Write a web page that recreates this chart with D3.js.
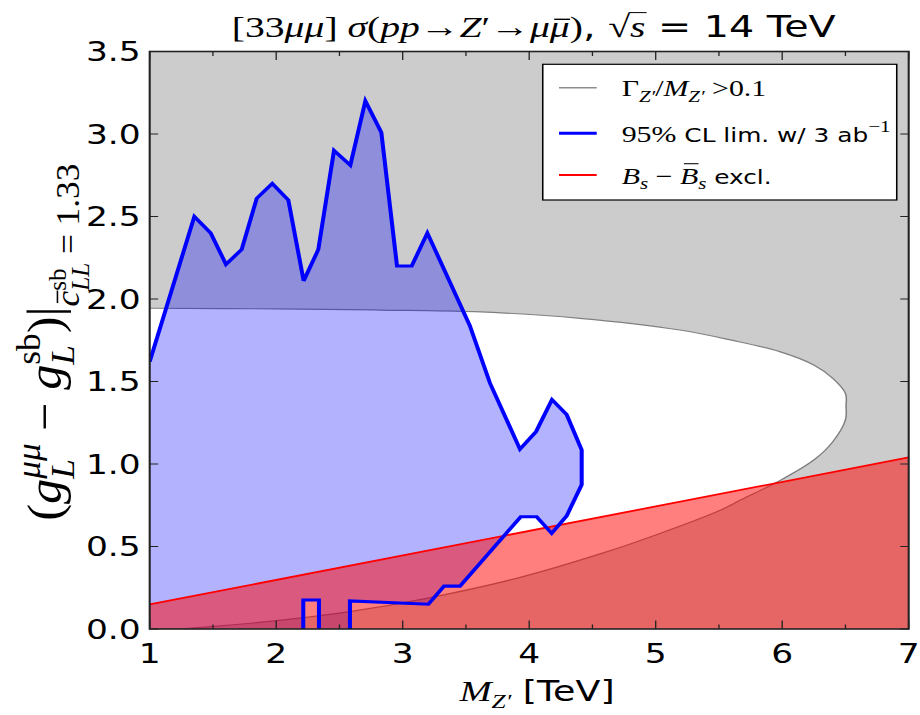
<!DOCTYPE html>
<html>
<head>
<meta charset="utf-8">
<script src="https://cdn.jsdelivr.net/npm/d3@7"></script>
<style>
  html, body { margin: 0; padding: 0; background: #fff; }
  svg { display: block; }
</style>
</head>
<body>
<svg id="chart"></svg>
<script>
// ---- axis ticks ----
const xTickValues = [1, 2, 3, 4, 5, 6, 7];
const xMinorTickValues = [1.5, 2.5, 3.5, 4.5, 5.5, 6.5];
const yTickValues = [0, 0.5, 1, 1.5, 2, 2.5, 3, 3.5];
const yTickLabels = ["0.0", "0.5", "1.0", "1.5", "2.0", "2.5", "3.0", "3.5"];

// ---- boundary of the narrow-width region (Γ/M < 0.1): upper branch, tip, lower branch ----
const widthM = [1.0, 2.0, 2.82, 3.57, 4.40, 5.19, 5.59, 5.98, 6.25, 6.40, 6.50, 6.505, 6.50, 6.40, 6.25, 5.98, 5.67, 5.51, 5.0, 4.56, 3.90, 3.19, 2.58, 2.06, 1.48, 1.2, 1.0];
const widthG = [1.944, 1.94, 1.933, 1.923, 1.883, 1.812, 1.752, 1.681, 1.600, 1.519, 1.428, 1.35, 1.267, 1.135, 1.024, 0.899, 0.782, 0.72, 0.57, 0.455, 0.307, 0.186, 0.105, 0.055, 0.014, 0.0, 0.0];

// ---- 95% CL limit contour, 3 ab^-1 ----
const limitM = [1.0, 1.353, 1.482, 1.603, 1.727, 1.846, 1.969, 2.096, 2.217, 2.333, 2.457, 2.586, 2.705, 2.831, 2.955, 3.071, 3.195, 3.53, 3.69, 3.927, 4.054, 4.18, 4.296, 4.415, 4.415, 4.296, 4.178, 4.059, 3.933, 3.453, 3.327, 3.203, 2.583, 2.583];
const limitG = [1.62, 2.50, 2.40, 2.21, 2.30, 2.61, 2.70, 2.60, 2.11, 2.30, 2.90, 2.81, 3.20, 3.01, 2.20, 2.20, 2.40, 1.84, 1.49, 1.09, 1.196, 1.39, 1.30, 1.085, 0.875, 0.685, 0.58, 0.68, 0.68, 0.26, 0.26, 0.15, 0.17, 0.0];
// small island outside the limit near 2.2-2.3 TeV
const islandM = [2.214, 2.214, 2.338, 2.338];
const islandG = [0.0, 0.176, 0.176, 0.0];

// ---- Bs - Bsbar mixing exclusion boundary ----
const mixM = [1, 7];
const mixG = [0.149, 1.04];

// ---- canvas: drawn in a narrower user space and stretched to the window width ----
const W = 920, H = 715, SX = 1.3;
const VW = W / SX;
const SANS = "'DejaVu Sans', sans-serif";
const SERIF = "'Liberation Serif', 'DejaVu Serif', serif";

const svg = d3.select("#chart")
  .attr("width", W).attr("height", H)
  .attr("viewBox", `0 0 ${VW} ${H}`)
  .attr("preserveAspectRatio", "none");

const plot = { left: 115.15, right: 699.0, top: 51.5, bottom: 629 };
const x = d3.scaleLinear().domain([1, 7]).range([plot.left, plot.right]);
const y = d3.scaleLinear().domain([0, 3.5]).range([plot.bottom, plot.top]);

svg.append("defs").append("clipPath").attr("id", "plotClip")
  .append("rect")
  .attr("x", plot.left).attr("y", plot.top)
  .attr("width", plot.right - plot.left).attr("height", plot.bottom - plot.top);

const area = svg.append("g").attr("clip-path", "url(#plotClip)");
const line = d3.line().x(d => x(d[0])).y(d => y(d[1]));
const smooth = d3.line().x(d => x(d[0])).y(d => y(d[1])).curve(d3.curveCatmullRom.alpha(0.5));

const widthPts = widthM.map((m, i) => [m, widthG[i]]);
const limitPts = limitM.map((m, i) => [m, limitG[i]]);
const islandPts = islandM.map((m, i) => [m, islandG[i]]);
const mixPts = mixM.map((m, i) => [m, mixG[i]]);

// wide-resonance region (grey) with the narrow-width region cut out in white
area.append("rect")
  .attr("x", plot.left).attr("y", plot.top)
  .attr("width", plot.right - plot.left).attr("height", plot.bottom - plot.top)
  .attr("fill", "#cccccc");
area.append("path").attr("d", smooth(widthPts) + "Z").attr("fill", "#ffffff");
area.append("path").attr("d", smooth(widthPts))
  .attr("fill", "none").attr("stroke", "#808080").attr("stroke-width", 1.2);

// CL limit filled region: contour down to the axis, around the island, back along the axis
const limitPoly = limitPts.concat(islandPts.slice().reverse(), [[1, 0]]);
area.append("path").attr("d", line(limitPoly) + "Z")
  .attr("fill", "rgba(0,0,255,0.3)");

// mixing exclusion
const mixPoly = mixPts.concat([[mixM[1], 0], [mixM[0], 0]]);
area.append("path").attr("d", line(mixPoly) + "Z")
  .attr("fill", "rgba(255,0,0,0.5)");
area.append("path").attr("d", line(mixPts))
  .attr("fill", "none").attr("stroke", "#ff0000").attr("stroke-width", 1.8);

// CL limit contour lines
area.append("path").attr("d", line(limitPts))
  .attr("fill", "none").attr("stroke", "#0000ff").attr("stroke-width", 3.1)
  .attr("stroke-linejoin", "miter");
area.append("path").attr("d", line(islandPts))
  .attr("fill", "none").attr("stroke", "#0000ff").attr("stroke-width", 3.1)
  .attr("stroke-linejoin", "miter");

// ---- ticks (inward, on all four sides) ----
const tickCol = "#222";
const ticks = svg.append("g").attr("stroke", tickCol).attr("stroke-width", 1);
const MAJ_X = 8.5, MIN_X = 4.5, MAJ_Y = 6.5;
xTickValues.forEach(v => {
  ticks.append("line").attr("x1", x(v)).attr("x2", x(v)).attr("y1", plot.bottom).attr("y2", plot.bottom - MAJ_X);
  ticks.append("line").attr("x1", x(v)).attr("x2", x(v)).attr("y1", plot.top).attr("y2", plot.top + MAJ_X);
});
xMinorTickValues.forEach(v => {
  ticks.append("line").attr("x1", x(v)).attr("x2", x(v)).attr("y1", plot.bottom).attr("y2", plot.bottom - MIN_X);
  ticks.append("line").attr("x1", x(v)).attr("x2", x(v)).attr("y1", plot.top).attr("y2", plot.top + MIN_X);
});
yTickValues.forEach(v => {
  ticks.append("line").attr("x1", plot.left).attr("x2", plot.left + MAJ_Y).attr("y1", y(v)).attr("y2", y(v));
  ticks.append("line").attr("x1", plot.right).attr("x2", plot.right - MAJ_Y).attr("y1", y(v)).attr("y2", y(v));
});

// frame
svg.append("rect")
  .attr("x", plot.left).attr("y", plot.top)
  .attr("width", plot.right - plot.left).attr("height", plot.bottom - plot.top)
  .attr("fill", "none").attr("stroke", tickCol).attr("stroke-width", 1.6);

// ---- tick labels ----
const TICK_FS = 26.5;
svg.append("g").selectAll("text").data(xTickValues).join("text")
  .attr("x", d => x(d)).attr("y", 663)
  .attr("text-anchor", "middle")
  .attr("font-family", SANS).attr("font-size", TICK_FS).attr("fill", "#000")
  .text(d => String(d));
svg.append("g").selectAll("text").data(yTickValues).join("text")
  .attr("x", plot.left - 6.9).attr("y", d => y(d) + 0.3645 * TICK_FS)
  .attr("text-anchor", "end")
  .attr("font-family", SANS).attr("font-size", TICK_FS).attr("fill", "#000")
  .text((d, i) => yTickLabels[i]);

// ---- small math-text layout: runs of serif/italic/sans text with sub/superscripts ----
// item fields: t text, f 'r' roman serif | 'i' italic serif | 's' sans,
// k relative size, dy baseline offset (in em of the row size), stack (share x with the
// previous script), over (radical bar), bar (accent bar height as fraction of size)
function mathText(parent, items, fs, anchor, sansScale) {
  const outer = parent.append("g");
  const g = outer.append("g");
  let cx = 0, lastStart = 0;
  items.forEach(it => {
    const size = fs * (it.k || 1) * (it.f === "s" ? (sansScale || 1) : 1);
    const sx = it.stack ? lastStart : cx;
    const by = (it.dy || 0) * fs;
    const t = g.append("text")
      .attr("x", sx).attr("y", by)
      .attr("xml:space", "preserve")
      .style("white-space", "pre")
      .attr("font-family", it.f === "s" ? SANS : SERIF)
      .attr("font-style", it.f === "i" ? "italic" : "normal")
      .attr("font-size", size).attr("fill", "#000")
      .text(it.t);
    const w = t.node().getComputedTextLength();
    if (it.over) {
      g.append("line")
        .attr("x1", sx - 1).attr("x2", sx + w + 1)
        .attr("y1", by - 0.8 * size).attr("y2", by - 0.8 * size)
        .attr("stroke", "#000").attr("stroke-width", 1);
    }
    if (it.bar) {
      g.append("line")
        .attr("x1", sx + 0.22 * w).attr("x2", sx + 1.02 * w)
        .attr("y1", by - it.bar * size).attr("y2", by - it.bar * size)
        .attr("stroke", "#000").attr("stroke-width", Math.max(0.8, size / 22));
    }
    if (it.stack) cx = Math.max(cx, sx + w);
    else { lastStart = sx; cx = sx + w; }
  });
  const shift = anchor === "middle" ? -cx / 2 : anchor === "end" ? -cx : 0;
  g.attr("transform", `translate(${shift},0)`);
  return { node: outer, width: cx };
}

const SUB = 0.26, SUP = -0.42, SS = 0.7;

// ---- title ----
mathText(svg, [
  { t: "[33", f: "r" }, { t: "μμ", f: "i" }, { t: "] ", f: "r" },
  { t: "σ", f: "i" }, { t: "(", f: "r" }, { t: "pp", f: "i" }, { t: "→", f: "r" },
  { t: "Z", f: "i" }, { t: "′", f: "r" }, { t: "→", f: "r" },
  { t: "μ", f: "i" }, { t: "μ", f: "i", bar: 0.58 }, { t: ")", f: "r" }, { t: ", ", f: "s" },
  { t: "√", f: "r" }, { t: "s", f: "i", over: true }, { t: " = 14 TeV", f: "s" }
], 30.5, "middle").node.attr("transform", `translate(${(plot.left + plot.right) / 2 + 3.5},37)`);

// ---- x axis label ----
mathText(svg, [
  { t: "M", f: "i", k: 1.06 }, { t: "Z′", f: "i", k: SS, dy: SUB },
  { t: " [TeV]", f: "s" }
], 28, "middle").node.attr("transform", `translate(${(plot.left + plot.right) / 2 + 6},701)`);

// ---- y axis label (rotated, spread along its length) ----
const yLab = mathText(svg, [
  { t: "(", f: "r" },
  { t: "g", f: "i" }, { t: "μμ", f: "i", k: SS, dy: SUP }, { t: "L", f: "i", k: SS, dy: SUB, stack: true },
  { t: " − ", f: "r" },
  { t: "g", f: "i" }, { t: "sb", f: "r", k: SS, dy: SUP }, { t: "L", f: "i", k: SS, dy: SUB, stack: true },
  { t: ")|", f: "r" },
  { t: "c", f: "i", k: SS, dy: 0.36, bar: 0.62 },
  { t: "sb", f: "r", k: 0.5, dy: 0.1 }, { t: "LL", f: "i", k: 0.5, dy: 0.56, stack: true },
  { t: " = 1.33", f: "r", k: SS, dy: 0.36 }
], 38, "middle");
const yLabLength = 357;
yLab.node.attr("transform",
  `translate(47,${(plot.top + plot.bottom) / 2 + 2}) rotate(-90) scale(${yLabLength / yLab.width},1)`);

// ---- legend ----
const legend = svg.append("g");
legend.append("rect")
  .attr("x", 417.5).attr("y", 64.3).attr("width", 272.3).attr("height", 135.7)
  .attr("fill", "#fff").attr("stroke", "#000").attr("stroke-width", 1.2);
const LEG_FS = 23;
const legendRows = [
  { y: 87.7, color: "#8c8c8c", width: 1.4, items: [
    { t: "Γ", f: "r" }, { t: "Z′", f: "i", k: SS, dy: SUB }, { t: "/", f: "r" },
    { t: "M", f: "i" }, { t: "Z′", f: "i", k: SS, dy: SUB }, { t: " >0.1", f: "r" }
  ] },
  { y: 133.3, color: "#0000ff", width: 3.1, items: [
    { t: "95%", f: "r" }, { t: " CL lim. w/ 3 ab", f: "s" }, { t: "−1", f: "r", k: SS, dy: SUP }
  ] },
  { y: 175, color: "#ff0000", width: 1.8, items: [
    { t: "B", f: "i" }, { t: "s", f: "i", k: SS, dy: SUB }, { t: " − ", f: "r" },
    { t: "B", f: "i", bar: 0.86 }, { t: "s", f: "i", k: SS, dy: SUB }, { t: " excl.", f: "s" }
  ] }
];
legendRows.forEach(r => {
  legend.append("line")
    .attr("x1", 430).attr("x2", 459).attr("y1", r.y).attr("y2", r.y)
    .attr("stroke", r.color).attr("stroke-width", r.width);
  mathText(legend, r.items, LEG_FS, "start", 0.83).node
    .attr("transform", `translate(478.2,${r.y + 8.5})`);
});
</script>
</body>
</html>
